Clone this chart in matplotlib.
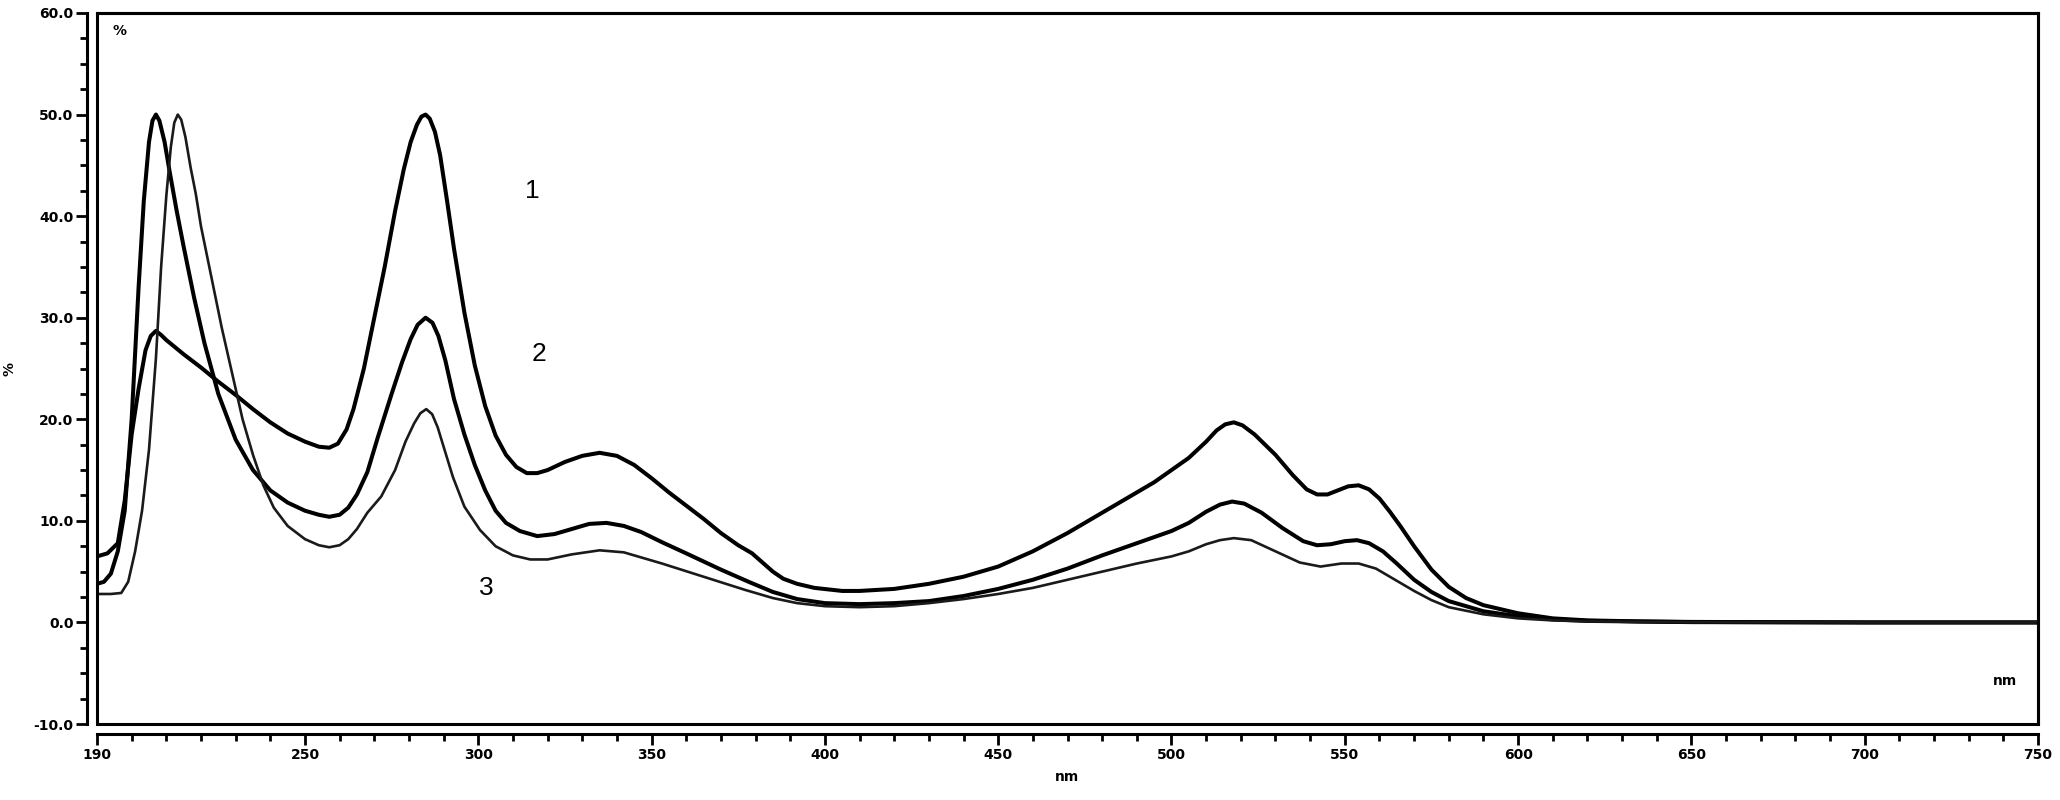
import matplotlib.pyplot as plt
from matplotlib.ticker import FixedLocator, MultipleLocator, FormatStrFormatter
from matplotlib.patches import Rectangle

plt.rcParams['font.family'] = ['DejaVu Sans']
plt.rcParams['axes.unicode_minus'] = False

# spectrum 1 (top curve): (nm, %)
curve1 = [(190, 6.5), (193, 6.8), (196, 7.8), (198, 12), (200, 18.5), (202, 23), (204, 26.8), (205.5, 28.2),
          (207, 28.7), (208.5, 28.3), (210, 27.8), (215, 26.4), (220, 25.1), (225, 23.7), (230, 22.4),
          (235, 21.0), (240, 19.7), (245, 18.6), (250, 17.8), (254, 17.3), (257, 17.2), (259.5, 17.6),
          (262, 19.0), (264, 21), (267, 25), (270, 30), (273, 35), (276, 40.5), (278.5, 44.6),
          (280.5, 47.3), (282.3, 49.0), (283.6, 49.8), (284.8, 50.0), (286, 49.6), (287.5, 48.3),
          (289, 46.0), (291, 41.5), (293, 36.8), (296, 30.5), (299, 25.3), (302, 21.3), (305, 18.4),
          (308, 16.5), (311, 15.3), (314, 14.7), (317, 14.7), (320, 15.0), (325, 15.8), (330, 16.4),
          (335, 16.7), (340, 16.4), (345, 15.5), (350, 14.2), (355, 12.8), (360, 11.5), (365, 10.2),
          (370, 8.8), (375, 7.6), (379, 6.8), (382, 5.9), (385, 5.0), (388, 4.3), (392, 3.8), (397, 3.4),
          (405, 3.1), (410, 3.1), (420, 3.3), (430, 3.8), (440, 4.5), (450, 5.5), (460, 7.0), (470, 8.8),
          (480, 10.8), (490, 12.8), (495, 13.8), (500, 15.0), (505, 16.2), (510, 17.8), (513, 18.9),
          (515.5, 19.5), (518, 19.7), (520.5, 19.4), (524, 18.5), (530, 16.5), (535, 14.5), (539, 13.1),
          (542, 12.6), (545, 12.6), (548, 13.0), (551, 13.4), (554, 13.5), (557, 13.1), (560, 12.2),
          (563, 10.9), (566, 9.5), (570, 7.5), (575, 5.2), (580, 3.5), (585, 2.4), (590, 1.7),
          (600, 0.9), (610, 0.4), (620, 0.2), (635, 0.1), (650, 0.05), (700, 0.0), (750, 0.0)]

# spectrum 2 (middle curve)
curve2 = [(190, 3.8), (192, 4.0), (194, 4.8), (196, 7), (198, 11), (200, 20), (202, 33), (203.5, 41.5),
          (205, 47.3), (206, 49.4), (207, 50.0), (208, 49.4), (209.5, 47.3), (211, 44.3), (213, 40.5),
          (215, 37), (218, 32), (221, 27.5), (225, 22.5), (230, 18), (235, 15), (240, 13), (245, 11.8),
          (250, 11), (254, 10.6), (257, 10.4), (260, 10.6), (262.5, 11.3), (265, 12.6), (268, 14.8),
          (271, 18.2), (275, 22.5), (278, 25.6), (280.5, 27.9), (282.5, 29.3), (284.8, 30.0),
          (286.8, 29.5), (288.5, 28.2), (290.5, 25.8), (293, 22), (296, 18.5), (299, 15.5), (302, 13),
          (305, 11), (308, 9.8), (312, 9), (317, 8.5), (322, 8.7), (327, 9.2), (332, 9.7), (337, 9.8),
          (342, 9.5), (347, 8.9), (353, 7.9), (360, 6.8), (370, 5.2), (378, 4.0), (385, 3.0),
          (392, 2.3), (400, 1.9), (410, 1.8), (420, 1.9), (430, 2.1), (440, 2.6), (450, 3.3),
          (460, 4.2), (470, 5.3), (480, 6.6), (490, 7.8), (500, 9.0), (505, 9.8), (510, 10.9),
          (514, 11.6), (517.5, 11.9), (521, 11.7), (526, 10.8), (532, 9.3), (538, 8.0), (542, 7.6),
          (546, 7.7), (550, 8.0), (553.5, 8.1), (557, 7.8), (561, 7.0), (565, 5.8), (570, 4.2),
          (575, 3.0), (580, 2.1), (590, 1.1), (600, 0.6), (610, 0.3), (620, 0.15), (650, 0.03),
          (700, 0), (750, 0)]

# spectrum 3 (bottom, thin curve)
curve3 = [(190, 2.8), (194, 2.8), (197, 2.9), (199, 4), (201, 7), (203, 11), (205, 17), (207, 26),
          (208.5, 35), (210, 42), (211.3, 46.8), (212.3, 49.2), (213.3, 50), (214.3, 49.5), (215.5, 47.8),
          (217, 44.8), (218.5, 42.2), (220, 39), (223, 34), (226, 29), (229, 24.5), (232, 20), (235, 16.5),
          (238, 13.5), (241, 11.3), (245, 9.5), (250, 8.2), (254, 7.6), (257, 7.4), (260, 7.6),
          (262.5, 8.2), (265, 9.2), (268, 10.8), (272, 12.4), (276, 15), (279, 17.8), (281.5, 19.6),
          (283.3, 20.6), (285, 21.0), (286.7, 20.5), (288.3, 19.2), (290, 17.3), (292.7, 14.3),
          (296, 11.4), (300.5, 9.1), (305, 7.5), (310, 6.6), (315, 6.2), (320, 6.2), (327, 6.7),
          (335, 7.1), (342, 6.9), (353, 5.8), (365, 4.5), (377, 3.2), (385, 2.4), (392, 1.9),
          (400, 1.6), (410, 1.5), (420, 1.6), (430, 1.9), (440, 2.3), (450, 2.8), (460, 3.4),
          (470, 4.2), (480, 5.0), (490, 5.8), (500, 6.5), (505, 7.0), (510, 7.7), (514, 8.1),
          (518, 8.3), (523, 8.1), (530, 7.0), (537, 5.9), (543, 5.5), (549, 5.8), (554, 5.8),
          (559, 5.3), (564, 4.3), (570, 3.1), (575, 2.2), (580, 1.5), (590, 0.8), (600, 0.4),
          (610, 0.2), (620, 0.1), (650, 0.02), (700, 0), (750, 0)]

curve_labels = ['1', '2', '3']
label_pos = [(315.5, 42.5), (317.5, 26.4), (302.2, 3.4)]

xticks_major = [190, 250, 300, 350, 400, 450, 500, 550, 600, 650, 700, 750]

fig = plt.figure(figsize=(20.6, 8), dpi=100)
ax = fig.add_axes([97 / 2060, 76 / 800, (2038 - 97) / 2060, (724 - 13) / 800])

for data, lw, col in [(curve1, 2.9, 'black'), (curve2, 2.9, 'black'), (curve3, 1.9, '#1a1a1a')]:
    x, y = zip(*data)
    ax.plot(x, y, color=col, lw=lw, solid_joinstyle='round', solid_capstyle='round')

for lab, (lx, ly) in zip(curve_labels, label_pos):
    ax.text(lx, ly, lab, fontsize=19, family='Liberation Sans', ha='center', va='center')

ax.set_xlim(190, 750)
ax.set_ylim(-10, 60)

ax.xaxis.set_major_locator(FixedLocator(xticks_major))
ax.xaxis.set_minor_locator(MultipleLocator(10))
ax.yaxis.set_major_locator(MultipleLocator(10))
ax.yaxis.set_minor_locator(MultipleLocator(2.5))
ax.yaxis.set_major_formatter(FormatStrFormatter('%.1f'))

# axis lines with ticks sit a little outside the plot frame
for s in ['left', 'bottom']:
    ax.spines[s].set_position(('outward', 7))
    ax.spines[s].set_linewidth(2.2)
for s in ['top', 'right']:
    ax.spines[s].set_linewidth(2.2)
ax.add_patch(Rectangle((0, 0), 1, 1, transform=ax.transAxes, fill=False, lw=2.2,
                       ec='black', clip_on=False, zorder=5))

ax.tick_params(which='major', direction='out', length=8, width=2, labelsize=10, pad=2)
ax.tick_params(which='minor', direction='out', length=5, width=2)
for t in ax.get_xticklabels() + ax.get_yticklabels():
    t.set_fontweight('bold')

ax.set_xlabel('nm', fontsize=10, fontweight='bold', labelpad=6)
ax.set_ylabel('%', fontsize=10, fontweight='bold', labelpad=12)
ax.text(0.008, 0.985, '%', transform=ax.transAxes, fontsize=10, fontweight='bold', va='top')
ax.text(0.983, 0.05, 'nm', transform=ax.transAxes, fontsize=10, fontweight='bold', ha='center', va='bottom')

fig.savefig('out.png', dpi=100)
